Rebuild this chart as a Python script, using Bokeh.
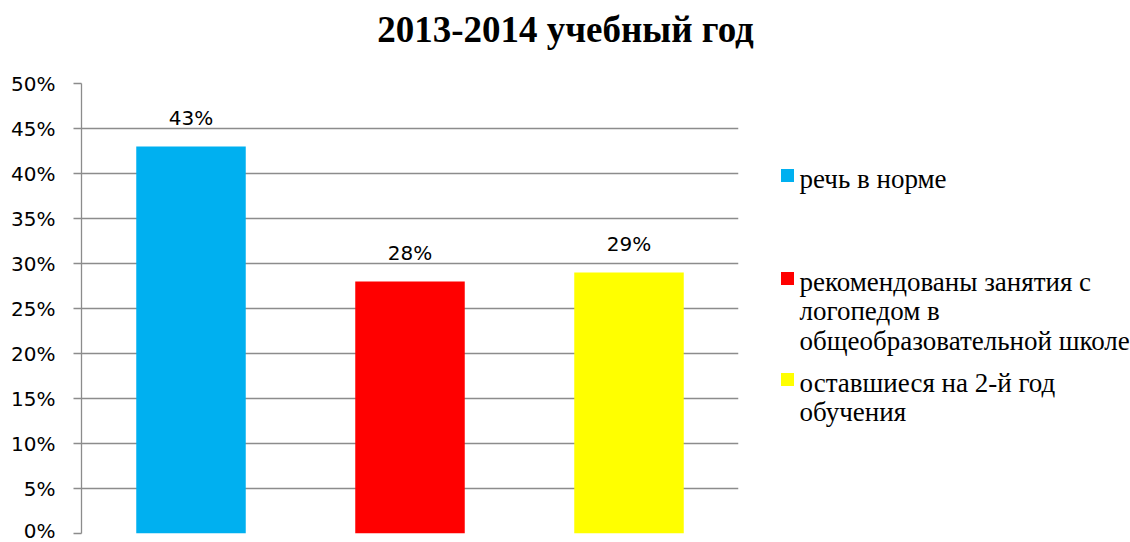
from bokeh.plotting import figure
from bokeh.models import Range1d, FixedTicker, NumeralTickFormatter, ColumnDataSource
from bokeh.layouts import row, column
from bokeh.embed import file_html
from bokeh.resources import INLINE
from bokeh.core.properties import value

# ---- data ----
title_text = "2013-2014 учебный год"
categories = ["речь в норме",
              "рекомендованы занятия с\nлогопедом в\nобщеобразовательной школе",
              "оставшиеся на 2-й год\nобучения"]
shares = [0.43, 0.28, 0.29]
share_labels = ["43%", "28%", "29%"]
colors = ["#00B0F0", "#FF0000", "#FFFF00"]
y_ticks = [0.0, 0.05, 0.10, 0.15, 0.20, 0.25, 0.30, 0.35, 0.40, 0.45, 0.50]

# ---- layout constants ----
WIDTH, HEIGHT = 1130, 542
TITLE_H = 70
W1 = 772
LEFT, FRAME_W = 81, 657
TOP, FRAME_H = 83, 450
H = HEIGHT - TITLE_H
GRID = "#8c8c8c"
SANS = "DejaVu Sans"
SERIF = "Liberation Serif"

# ---- title strip ----
t = figure(width=WIDTH, height=TITLE_H, frame_width=WIDTH, frame_height=TITLE_H,
           x_range=Range1d(0, WIDTH), y_range=Range1d(TITLE_H, 0),
           min_border=0, toolbar_location=None, output_backend="svg")
t.outline_line_color = None
t.axis.visible = False
t.grid.visible = False
t.text(x=[WIDTH / 2], y=[29], text=[title_text], text_align="center",
       text_baseline="middle", text_font=value(SERIF), text_font_size="37px",
       text_font_style="bold", text_color="#000000")

# ---- chart ----
p = figure(width=W1, height=H, frame_width=FRAME_W, frame_height=FRAME_H,
           x_range=Range1d(0, 3), y_range=Range1d(0, 0.5),
           min_border_left=LEFT, min_border_right=W1 - LEFT - FRAME_W,
           min_border_top=TOP - TITLE_H, min_border_bottom=H - (TOP - TITLE_H) - FRAME_H,
           toolbar_location=None, output_backend="svg")
p.outline_line_color = None
p.background_fill_color = "white"
p.border_fill_color = "white"
p.xaxis.visible = False
p.xgrid.visible = False
p.ygrid.grid_line_color = GRID
p.ygrid.grid_line_width = 1.3
p.ygrid.ticker = FixedTicker(ticks=y_ticks)

ax = p.yaxis[0]
ax.ticker = FixedTicker(ticks=y_ticks)
ax.formatter = NumeralTickFormatter(format="0%")
ax.axis_line_color = GRID
ax.axis_line_width = 1.3
ax.major_tick_line_color = GRID
ax.major_tick_line_width = 1.3
ax.major_tick_out = 8
ax.major_tick_in = 0
ax.minor_tick_line_color = None
ax.major_label_standoff = 18
ax.major_label_text_font = SANS
ax.major_label_text_font_size = "20px"
ax.major_label_text_color = "#000000"

xs = [i + 0.5 for i in range(len(shares))]
src = ColumnDataSource(dict(x=xs, top=shares, lab=share_labels, color=colors))
p.vbar(x="x", top="top", width=0.5, bottom=0, fill_color="color", line_color=None, source=src)
p.text(x="x", y="top", text="lab", source=src, text_align="center",
       text_baseline="middle", y_offset=-29, text_font=value(SANS),
       text_font_size="20px", text_color="#000000")

# ---- legend panel (y in window pixels) ----
W2 = WIDTH - W1
q = figure(width=W2, height=H, frame_width=W2, frame_height=FRAME_H,
           x_range=Range1d(W1, WIDTH), y_range=Range1d(TOP + FRAME_H, TOP),
           min_border_left=0, min_border_right=0,
           min_border_top=TOP - TITLE_H, min_border_bottom=H - (TOP - TITLE_H) - FRAME_H,
           toolbar_location=None, output_backend="svg")
q.outline_line_color = None
q.axis.visible = False
q.grid.visible = False

first_lines = [178, 281, 382]
line_step = 29.5
mx, my, tx_, ty_, tl = [], [], [], [], []
for i, cat in enumerate(categories):
    b = first_lines[i]
    mx.append(787)
    my.append(b - 3)
    for j, line in enumerate(cat.split("\n")):
        tx_.append(799)
        ty_.append(b + j * line_step)
        tl.append(line)
q.scatter(x=mx, y=my, marker="square", size=13, fill_color=colors, line_color=None)
q.text(x=tx_, y=ty_, text=tl, text_align="left", text_baseline="middle",
       text_font=value(SERIF), text_font_size="27px", text_color="#000000")

layout = column(t, row(p, q))
open("out.html", "w").write(file_html(layout, INLINE))
